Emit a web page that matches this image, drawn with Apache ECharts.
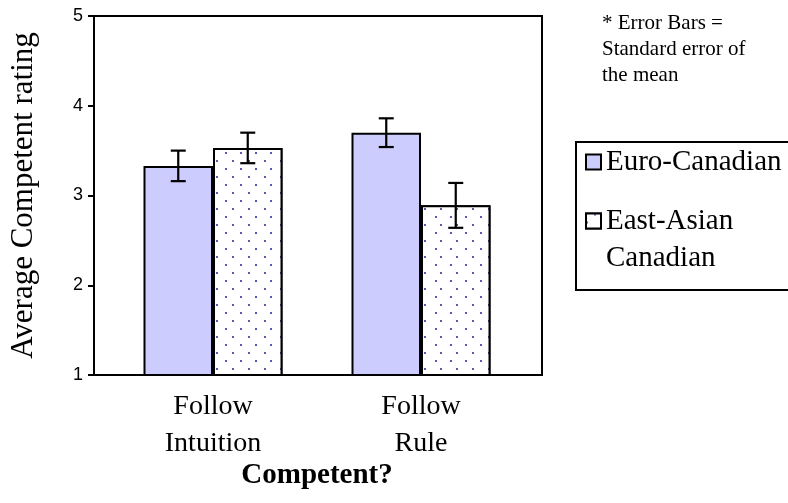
<!DOCTYPE html>
<html><head><meta charset="utf-8">
<script src="https://cdn.jsdelivr.net/npm/echarts@6/dist/echarts.min.js"></script>
<style>html,body{margin:0;padding:0;background:#fff}#c{width:788px;height:503px}</style>
</head><body><div id="c"></div>
<script>
const categories = ['Follow\nIntuition', 'Follow\nRule'];
const seriesNames = ['Euro-Canadian', 'East-Asian Canadian'];
const legendLines = ['Euro-Canadian', 'East-Asian', 'Canadian'];
const euroMeans = [3.33, 3.70];
const euroSE = [0.17, 0.16];
const asianMeans = [3.53, 2.89];
const asianSE = [0.17, 0.25];
const yTicks = [1, 2, 3, 4, 5];

const SERIF = 'Liberation Serif';
const BAR_W = 69.5;

const errData = [];
for (let i = 0; i < categories.length; i++) {
  errData.push([i, euroMeans[i] - euroSE[i], euroMeans[i] + euroSE[i], 0]);
  errData.push([i, asianMeans[i] - asianSE[i], asianMeans[i] + asianSE[i], 1]);
}

const chart = echarts.init(document.getElementById('c'), null, {renderer: 'canvas'});
chart.setOption({
  animation: false,
  backgroundColor: '#fff',
  title: {
    text: '* Error Bars =\nStandard error of\nthe mean',
    left: 597, top: 5,
    textStyle: {fontFamily: SERIF, fontSize: 21, fontWeight: 'normal', color: '#000', lineHeight: 26}
  },
  legend: {
    orient: 'vertical',
    left: 576, top: 142,
    data: seriesNames,
    formatter: function (n) { return n === seriesNames[1] ? legendLines[1] : legendLines[0]; },
    icon: 'rect',
    itemWidth: 15, itemHeight: 15,
    itemGap: 29,
    borderColor: '#000', borderWidth: 2, borderRadius: 0,
    padding: [5, 40, 54, 9],
    textStyle: {fontFamily: SERIF, fontSize: 29, color: '#000', lineHeight: 30},
    selectedMode: false
  },
  graphic: [{
    type: 'text', left: 606, top: 243, silent: true,
    style: {text: legendLines[2], fontFamily: SERIF, fontSize: 29, fill: '#000', lineHeight: 30}
  }],
  grid: [
    {left: 92, right: 246, top: 16, bottom: 128, show: true, borderColor: '#000', borderWidth: 2, backgroundColor: 'transparent'},
    {left: 109, right: 263, top: 16, bottom: 128}
  ],
  xAxis: [
    {gridIndex: 0, type: 'value', min: 0, max: 1, show: false},
    {
      gridIndex: 1, type: 'category', data: categories,
      axisLine: {show: false}, axisTick: {show: false},
      axisLabel: {fontFamily: SERIF, fontSize: 28, color: '#000', lineHeight: 37, margin: 13},
      name: 'Competent?', nameLocation: 'middle', nameGap: 86, nameMoveOverlap: false,
      nameTextStyle: {fontFamily: SERIF, fontSize: 29, fontWeight: 'bold', color: '#000'}
    }
  ],
  yAxis: [
    {
      gridIndex: 0, type: 'value', min: yTicks[0], max: yTicks[yTicks.length - 1], interval: 1,
      axisLine: {show: true, lineStyle: {color: '#000', width: 2}},
      axisTick: {show: true, inside: false, length: 6, lineStyle: {color: '#000', width: 2}},
      axisLabel: {fontFamily: 'Liberation Sans', fontSize: 18, color: '#000', margin: 11},
      splitLine: {show: false},
      name: 'Average Competent rating', nameLocation: 'middle', nameGap: 55, nameRotate: 90,
      nameTextStyle: {fontFamily: SERIF, fontSize: 31, color: '#000'}
    },
    {gridIndex: 1, type: 'value', min: yTicks[0], max: yTicks[yTicks.length - 1], show: false}
  ],
  series: [
    {
      name: seriesNames[0], type: 'bar', xAxisIndex: 1, yAxisIndex: 1,
      data: euroMeans, barWidth: BAR_W, barGap: '0%',
      itemStyle: {color: '#CCCCFF', borderColor: '#000', borderWidth: 2}
    },
    {
      name: seriesNames[1], type: 'bar', xAxisIndex: 1, yAxisIndex: 1,
      data: asianMeans, barWidth: BAR_W, barGap: '0%',
      itemStyle: {
        color: '#ffffff', borderColor: '#000', borderWidth: 2,
        decal: {
          symbol: 'circle', symbolSize: 1, color: '#22229a', backgroundColor: '#ffffff',
          dashArrayX: [[2, 13], [0, 7.5, 2, 5.5]], dashArrayY: [2, 5.7], rotation: 0
        }
      }
    },
    {
      type: 'custom', xAxisIndex: 1, yAxisIndex: 1, data: errData, z: 10,
      renderItem: function (params, api) {
        const ci = api.value(0);
        const lo = api.coord([ci, api.value(1)]);
        const hi = api.coord([ci, api.value(2)]);
        const x = lo[0] + (api.value(3) === 0 ? -1 : 1) * BAR_W / 2;
        const cap = 7.5;
        const st = {stroke: '#000', lineWidth: 2.2, fill: null};
        return {
          type: 'group',
          children: [
            {type: 'line', shape: {x1: x, y1: lo[1], x2: x, y2: hi[1]}, style: st},
            {type: 'line', shape: {x1: x - cap, y1: lo[1], x2: x + cap, y2: lo[1]}, style: st},
            {type: 'line', shape: {x1: x - cap, y1: hi[1], x2: x + cap, y2: hi[1]}, style: st}
          ]
        };
      }
    }
  ]
});
</script></body></html>
